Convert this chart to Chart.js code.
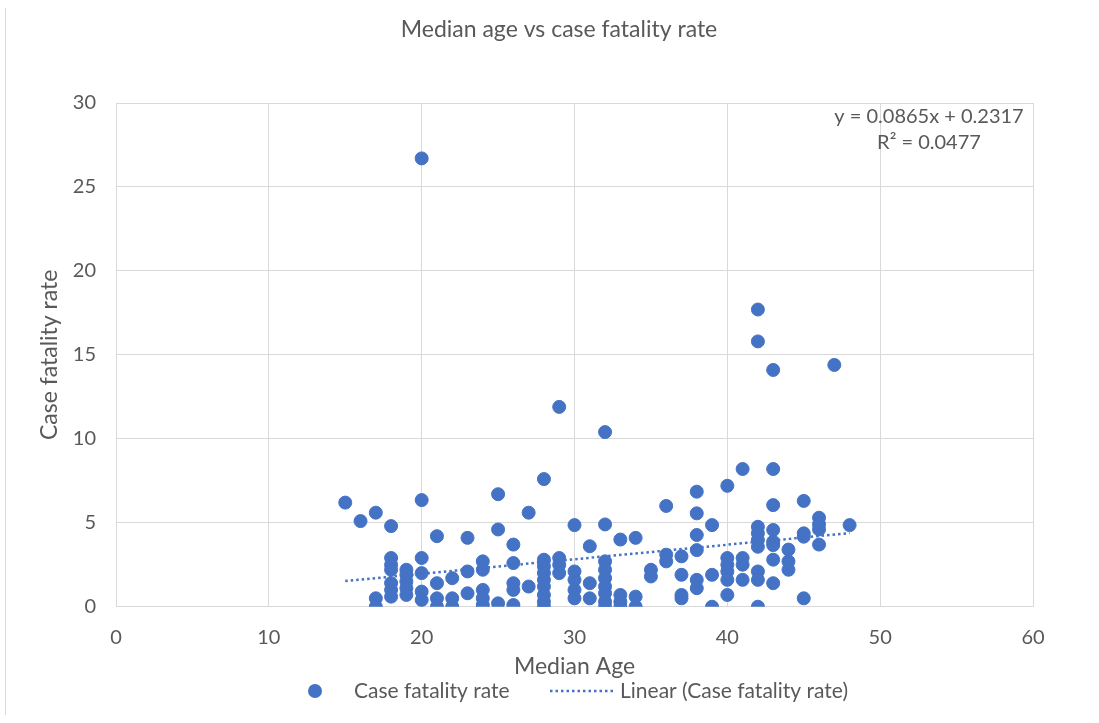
<!DOCTYPE html>
<html>
<head>
<meta charset="utf-8">
<script src="https://cdn.jsdelivr.net/npm/chart.js@4"></script>
<style>
html,body{margin:0;padding:0;background:#fff;}
canvas{display:block;}
</style>
</head>
<body>
<canvas id="c" width="1099" height="723"></canvas>
<script>
// ---- Data ----
const medianAge = [
  15,
  16,
  17,17,17,
  18,18,18,18,18,18,18,
  19,19,19,19,19,
  20,20,20,20,20,20,
  21,21,21,21,
  22,22,22,
  23,23,23,
  24,24,24,24,24,
  25,25,25,
  26,26,26,26,26,
  27,27,
  28,28,28,28,28,28,28,28,28,
  29,29,29,29,
  30,30,30,30,30,
  31,31,31,
  32,32,32,32,32,32,32,32,32,
  33,33,33,33,
  34,34,34,
  35,35,
  36,36,36,
  37,37,37,37,
  38,38,38,38,38,38,
  39,39,39,
  40,40,40,40,40,40,
  41,41,41,41,
  42,42,42,42,42,42,42,42,42,
  43,43,43,43,43,43,43,43,
  44,44,44,
  45,45,45,45,
  46,46,46,46,
  47,
  48
];
const caseFatality = [
  6.2,
  5.1,
  5.6,0.5,0.0,
  4.8,2.9,2.5,2.2,1.4,1.0,0.6,
  2.2,1.9,1.5,1.1,0.7,
  26.7,6.35,2.9,2.0,0.9,0.4,
  4.2,1.4,0.5,0.0,
  1.7,0.5,0.0,
  4.1,2.1,0.8,
  2.7,2.2,1.0,0.5,0.1,
  6.7,4.6,0.2,
  3.7,2.6,1.4,1.0,0.1,
  5.6,1.2,
  7.6,2.8,2.4,2.0,1.6,1.2,0.7,0.3,0.0,
  11.9,2.9,2.5,2.0,
  4.86,2.1,1.6,1.0,0.5,
  3.6,1.4,0.5,
  10.4,4.9,2.7,2.2,1.7,1.2,0.8,0.3,0.0,
  4.0,0.7,0.3,0.0,
  4.1,0.6,0.0,
  2.2,1.8,
  6.0,3.1,2.7,
  3.0,1.9,0.7,0.5,
  6.85,5.56,4.27,3.37,1.6,1.1,
  4.86,1.9,0.0,
  7.2,2.9,2.5,2.1,1.6,0.7,
  8.2,2.9,2.5,1.6,
  17.7,15.8,4.76,4.37,3.97,3.57,2.1,1.6,0.0,
  14.1,8.2,6.05,4.57,3.87,3.67,2.8,1.4,
  3.4,2.7,2.2,
  6.3,4.37,4.17,0.5,
  5.3,4.9,4.6,3.7,
  14.4,
  4.86
];
const trendSlope = 0.0865;
const trendIntercept = 0.2317;
const equationLines = ['y = 0.0865x + 0.2317', 'R\u00B2 = 0.0477'];
const xTicks = [0, 10, 20, 30, 40, 50, 60];
const yTicks = [0, 5, 10, 15, 20, 25, 30];
const chartTitle = 'Median age vs case fatality rate';
const seriesName = 'Case fatality rate';
const trendName = 'Linear (Case fatality rate)';

// ---- Build datasets ----
const points = medianAge.map((a, i) => ({ x: a, y: caseFatality[i] }));
const minAge = Math.min(...medianAge), maxAge = Math.max(...medianAge);
const trendPts = [minAge, maxAge].map(a => ({ x: a, y: trendSlope * a + trendIntercept }));

const BLUE = '#4472C4';
const TXT = '#595959';
const FONT = 'Lato, "Open Sans", "Noto Sans", sans-serif';

const extras = {
  id: 'extras',
  beforeDraw(chart) {
    const ctx = chart.ctx;
    ctx.save();
    ctx.strokeStyle = '#d9d9d9';
    ctx.lineWidth = 1;
    ctx.beginPath();
    ctx.moveTo(5.5, 8);
    ctx.lineTo(5.5, 715);
    ctx.stroke();
    ctx.restore();
  },
  afterDraw(chart) {
    const ctx = chart.ctx;
    const ca = chart.chartArea;
    ctx.save();
    ctx.fillStyle = TXT;
    ctx.textBaseline = 'middle';
    ctx.textAlign = 'center';

    // title
    ctx.font = '23px ' + FONT;
    ctx.fillText(chartTitle, 559, 30);

    // trendline equation
    ctx.font = '20px ' + FONT;
    const cx = ca.right - 104;
    ctx.fillText(equationLines[0], cx, ca.top + 14);
    ctx.fillText(equationLines[1], cx, ca.top + 40);

    // legend
    const ly = 691;
    ctx.font = '21px ' + FONT;
    ctx.fillStyle = BLUE;
    ctx.beginPath();
    ctx.arc(315, ly, 7, 0, Math.PI * 2);
    ctx.fill();
    ctx.fillStyle = TXT;
    ctx.textAlign = 'left';
    ctx.fillText(seriesName, 354, ly);
    ctx.strokeStyle = BLUE;
    ctx.lineWidth = 2.5;
    ctx.setLineDash([2.5, 3]);
    ctx.beginPath();
    ctx.moveTo(550, ly);
    ctx.lineTo(614, ly);
    ctx.stroke();
    ctx.setLineDash([]);
    ctx.fillText(trendName, 620, ly);
    ctx.restore();
  }
};

Chart.defaults.font.family = FONT;
Chart.defaults.color = TXT;

new Chart(document.getElementById('c'), {
  type: 'scatter',
  data: {
    datasets: [
      {
        label: trendName,
        type: 'line',
        data: trendPts,
        borderColor: BLUE,
        borderWidth: 2.5,
        borderDash: [2.5, 3],
        pointRadius: 0,
        fill: false,
        order: 0
      },
      {
        label: seriesName,
        data: points,
        backgroundColor: BLUE,
        borderColor: BLUE,
        borderWidth: 1,
        pointRadius: 6.5,
        pointHoverRadius: 6.5,
        order: 1
      }
    ]
  },
  options: {
    responsive: false,
    animation: false,
    devicePixelRatio: 1,
    layout: { padding: { left: 0, right: 66, top: 103, bottom: 0 } },
    plugins: {
      legend: { display: false },
      tooltip: { enabled: false },
      title: { display: false }
    },
    scales: {
      x: {
        type: 'linear',
        min: 0, max: 60,
        afterBuildTicks: s => { s.ticks = xTicks.map(v => ({ value: v })); },
        ticks: { padding: 19, font: { size: 20 }, color: TXT },
        grid: { color: '#d9d9d9', lineWidth: 1, drawTicks: false },
        border: { display: false },
        title: { display: true, text: 'Median Age', color: TXT, font: { size: 23 }, padding: { top: 0, bottom: 43 } },
        afterFit: s => { s.height = 116.3; }
      },
      y: {
        type: 'linear',
        min: 0, max: 30,
        afterBuildTicks: s => { s.ticks = yTicks.map(v => ({ value: v })); },
        ticks: { padding: 20, font: { size: 20 }, color: TXT },
        grid: { color: '#d9d9d9', lineWidth: 1, drawTicks: false },
        border: { display: false },
        title: { display: true, text: 'Case fatality rate', color: TXT, font: { size: 23 }, padding: { top: 36, bottom: 0 } },
        afterFit: s => { s.width = 116; }
      }
    }
  },
  plugins: [extras]
});
</script>
</body>
</html>
